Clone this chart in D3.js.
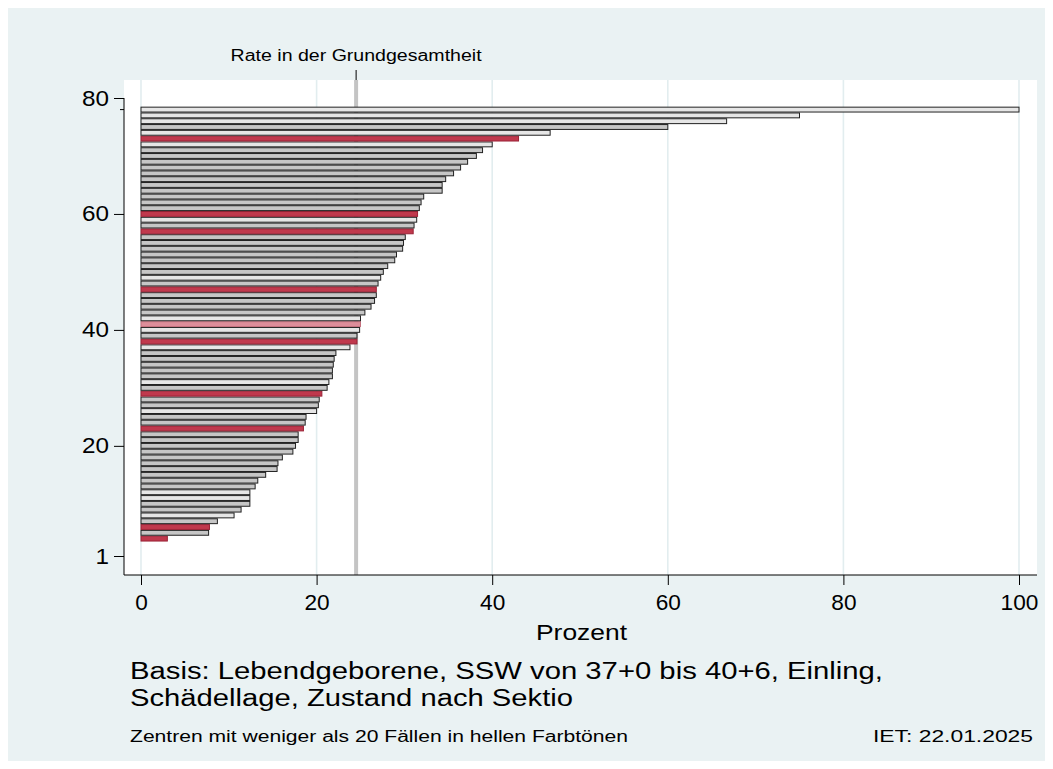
<!DOCTYPE html>
<html><head><meta charset="utf-8">
<script src="https://cdn.jsdelivr.net/npm/d3@7"></script>
<style>body{margin:0;background:#fff}svg{display:block;font-family:"Liberation Sans",Arial,sans-serif}</style>
</head><body><svg id="c" width="1053" height="769"></svg>
<script>
// Positions 1..78 (bottom to top)
const positions = d3.range(1, 79);
const values = [0,0,0,3.0,7.7,7.8,8.7,10.6,11.4,12.4,12.4,12.4,13.0,13.3,14.2,15.5,15.6,16.1,17.3,17.6,
  17.9,17.9,18.5,18.7,18.8,20.0,20.2,20.3,20.6,21.2,21.4,21.8,21.8,21.9,22.0,22.2,23.8,24.6,24.6,24.9,
  25.0,25.0,25.5,26.2,26.6,26.8,26.8,27.0,27.3,27.6,28.1,28.9,29.1,29.8,29.9,30.1,31.0,31.1,31.4,31.5,
  31.7,31.9,32.2,34.3,34.3,34.7,35.6,36.4,37.2,38.2,38.9,40.0,43.0,46.6,60.0,66.7,75.0,100];
// g = gray, l = light (<20 cases), r = red, lr = light red
const groups = ["g","g","g","r","g","r","g","l","g","g","l","l","g","g","g","g","g","g","g","g",
  "g","g","r","g","g","l","g","g","r","g","l","g","g","g","g","g","l","r","g","l",
  "lr","l","g","g","g","g","r","g","l","g","g","g","g","g","g","g","r","g","l","r",
  "g","g","g","g","g","g","g","g","g","g","g","l","r","l","g","l","l","l"];
const xTicks = [0,20,40,60,80,100];
const yTicks = [1,20,40,60,80];
const refRate = 24.5;
const refLabel = "Rate in der Grundgesamtheit";
const xTitle = "Prozent";
const note1 = "Basis: Lebendgeborene, SSW von 37+0 bis 40+6, Einling,";
const note2 = "Schädellage, Zustand nach Sektio";
const note3 = "Zentren mit weniger als 20 Fällen in hellen Farbtönen";
const stamp = "IET: 22.01.2025";

const fills = {g:"#c6c6c6", l:"#e6e6e6", r:"#c0394d", lr:"#dd8e9a"};
const strokes = {g:"#222", l:"#222", r:"#9a2236", lr:"#c46f7d"};

const svg = d3.select("#c");
svg.append("rect").attr("x",0).attr("y",0).attr("width",1053).attr("height",769).attr("fill","#fff");
svg.append("rect").attr("x",8).attr("y",8).attr("width",1037).attr("height",753).attr("fill","#eaf2f3");

const plot = {l:124, r:1037, t:80, b:575};
const x = d3.scaleLinear().domain([0,100]).range([141,1019]);
const y = d3.scaleLinear().domain([1,80]).range([556,98]);
const step = Math.abs(y(2)-y(1));

svg.append("rect").attr("x",plot.l).attr("y",plot.t).attr("width",plot.r-plot.l).attr("height",plot.b-plot.t).attr("fill","#fff");

// grid
svg.append("g").selectAll("line").data(xTicks).join("line")
  .attr("x1",d=>x(d)).attr("x2",d=>x(d)).attr("y1",plot.t).attr("y2",plot.b)
  .attr("stroke","#e2edef").attr("stroke-width",1.6);

// reference line
svg.append("rect").attr("x",x(refRate)-2).attr("y",plot.t).attr("width",4).attr("height",plot.b-plot.t).attr("fill","#c4c4c4");
svg.append("line").attr("x1",x(refRate)).attr("x2",x(refRate)).attr("y1",70).attr("y2",plot.t).attr("stroke","#000").attr("stroke-width",1);
svg.append("text").attr("x",x(refRate)).attr("y",61).attr("text-anchor","middle").attr("font-size",16)
  .attr("textLength",251).attr("lengthAdjust","spacingAndGlyphs").attr("fill","#000").text(refLabel);

// bars
const bh = step*0.84;
svg.append("g").selectAll("rect").data(positions).join("rect")
  .attr("x",x(0))
  .attr("y",(d)=>y(d)-bh/2)
  .attr("width",(d,i)=>x(values[i])-x(0))
  .attr("height",bh)
  .attr("fill",(d,i)=>fills[groups[i]])
  .attr("stroke",(d,i)=>strokes[groups[i]])
  .attr("stroke-width",1);

// y axis
const ya = svg.append("g").attr("transform",`translate(${plot.l},0)`)
  .call(d3.axisLeft(y).tickValues(yTicks).tickSize(10).tickPadding(5).tickFormat(d3.format("d")));
ya.select(".domain").remove();
ya.append("line").attr("x1",0).attr("x2",0).attr("y1",y(80)).attr("y2",plot.b).attr("stroke","#000");
ya.append("line").attr("x1",-4).attr("x2",0).attr("y1",y(78)).attr("y2",y(78)).attr("stroke","#000");
ya.selectAll(".tick text").attr("font-size",22).attr("fill","#000").attr("font-family","Liberation Sans, Arial, sans-serif")
  .attr("textLength",d=>String(d).length*13.5).attr("lengthAdjust","spacingAndGlyphs");
ya.selectAll(".tick line").attr("stroke","#000");

// x axis
const xa = svg.append("g").attr("transform",`translate(0,${plot.b})`)
  .call(d3.axisBottom(x).tickValues(xTicks).tickSize(10).tickPadding(9).tickFormat(d3.format("d")));
xa.select(".domain").remove();
xa.append("line").attr("x1",plot.l).attr("x2",plot.r).attr("y1",0).attr("y2",0).attr("stroke","#000");
xa.selectAll(".tick text").attr("font-size",22).attr("fill","#000").attr("font-family","Liberation Sans, Arial, sans-serif")
  .attr("textLength",d=>String(d).length*12.6).attr("lengthAdjust","spacingAndGlyphs");
xa.selectAll(".tick line").attr("stroke","#000");

function stretched(txt, xx, yy, size, len, anchor){
  svg.append("text").attr("x",xx).attr("y",yy).attr("font-size",size).attr("text-anchor",anchor||"start")
    .attr("textLength",len).attr("lengthAdjust","spacingAndGlyphs").attr("fill","#000").text(txt);
}
stretched(xTitle, 581.5, 640, 22, 91, "middle");
stretched(note1, 130, 679, 23.5, 753);
stretched(note2, 130, 706, 23.5, 443);
stretched(note3, 130, 742, 16, 498);
stretched(stamp, 1033, 742, 16, 160, "end");
</script></body></html>
